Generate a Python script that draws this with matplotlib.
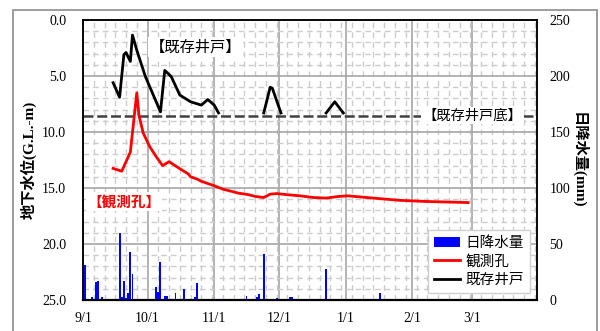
import matplotlib.pyplot as plt
import matplotlib.dates as mdates
import matplotlib.ticker as mticker
from matplotlib.patches import Rectangle
import numpy as np
import pandas as pd

SERIF = 'Liberation Serif'
CJK = 'Noto Sans CJK JP'
plt.rcParams['font.family'] = [SERIF, CJK]

# daily rainfall (mm)
rain_dates = ['2018-09-01', '2018-09-02', '2018-09-05', '2018-09-07', '2018-09-08',
              '2018-09-10', '2018-09-18', '2018-09-19', '2018-09-20', '2018-09-21',
              '2018-09-22', '2018-09-23', '2018-09-24', '2018-10-05', '2018-10-06',
              '2018-10-07', '2018-10-09', '2018-10-10', '2018-10-13', '2018-10-14',
              '2018-10-18', '2018-10-23', '2018-10-24', '2018-11-04', '2018-11-16',
              '2018-11-21', '2018-11-22', '2018-11-24', '2018-11-30', '2018-12-06',
              '2018-12-07', '2018-12-14', '2018-12-18', '2018-12-23', '2019-01-16',
              '2019-01-17']
rain_mm = [5, 31, 3, 16, 17, 3, 60, 3, 17, 2, 6, 43, 23, 12, 7, 34, 4, 4, 1, 6,
           10, 3, 15, 1, 4, 3, 5, 41, 2, 3, 3, 1, 0.5, 28, 1, 6]

# groundwater level, observation hole (G.L.-m)
hole_dates = ['2018-09-15', '2018-09-19', '2018-09-23', '2018-09-26', '2018-09-27',
              '2018-09-29', '2018-10-02', '2018-10-05', '2018-10-08', '2018-10-11',
              '2018-10-15', '2018-10-17', '2018-10-20', '2018-10-21', '2018-10-24',
              '2018-10-26', '2018-10-29', '2018-11-01', '2018-11-05', '2018-11-09',
              '2018-11-12', '2018-11-17', '2018-11-20', '2018-11-24', '2018-11-27',
              '2018-11-30', '2018-12-05', '2018-12-11', '2018-12-17', '2018-12-23',
              '2018-12-29', '2019-01-02', '2019-01-11', '2019-01-20', '2019-01-26',
              '2019-02-07', '2019-02-17', '2019-02-27']
hole_depth = [13.25, 13.5, 11.8, 6.5, 8.5, 10.1, 11.3, 12.2, 13.0, 12.65,
              13.15, 13.4, 13.75, 14.0, 14.2, 14.4, 14.6, 14.8, 15.1, 15.3,
              15.45, 15.6, 15.75, 15.85, 15.55, 15.5, 15.6, 15.7, 15.85, 15.9,
              15.75, 15.7, 15.85, 16.0, 16.1, 16.2, 16.25, 16.3]

# existing well (dry periods left as gaps)
well_dates = ['2018-09-15', '2018-09-18', '2018-09-20', '2018-09-21', '2018-09-23',
              '2018-09-24', '2018-09-26', '2018-09-30', '2018-10-04', '2018-10-07',
              '2018-10-09', '2018-10-12', '2018-10-16', '2018-10-21', '2018-10-26',
              '2018-10-29', '2018-11-01', '2018-11-03', '2018-11-10',
              '2018-11-24', '2018-11-27', '2018-11-28', '2018-12-02', '2018-12-10',
              '2018-12-23', '2018-12-27', '2018-12-31']
well_depth = [5.6, 6.9, 3.1, 2.9, 3.7, 1.35, 2.7, 5.05, 6.85, 8.2,
              4.5, 5.05, 6.7, 7.3, 7.6, 7.1, 7.6, 8.3, np.nan,
              8.3, 6.0, 6.1, 8.3, np.nan,
              8.3, 7.3, 8.3]

well_bottom = 8.55

rain_dates = pd.to_datetime(rain_dates)
hole_dates = pd.to_datetime(hole_dates)
well_dates = pd.to_datetime(well_dates)
start, end = pd.Timestamp('2018-09-01'), pd.Timestamp('2019-03-31')

fig = plt.figure(figsize=(6, 3.31), dpi=100)
fig.patches.append(Rectangle((13 / 600, -0.1), 584 / 600, 1.1 - 10 / 331,
                             transform=fig.transFigure, fill=False,
                             edgecolor='#8c8c8c', linewidth=1.2))

ax = fig.add_axes([83 / 600, 31 / 331, 454 / 600, 280 / 331])
ax2 = ax.twinx()

# left axis: depth, inverted
ax.set_xlim(start, end)
ax.set_ylim(25, 0)
ax.yaxis.set_major_locator(mticker.MultipleLocator(5))
ax.yaxis.set_minor_locator(mticker.MultipleLocator(1))
ax.yaxis.set_major_formatter(mticker.FormatStrFormatter('%.1f'))
ax.xaxis.set_major_locator(mdates.MonthLocator())
ax.xaxis.set_major_formatter(mticker.FuncFormatter(
    lambda v, p: f'{mdates.num2date(v).month}/{mdates.num2date(v).day}'))
minor_days = pd.date_range(start, end, freq='5D')
ax.xaxis.set_minor_locator(mticker.FixedLocator(mdates.date2num(minor_days)))

ax.grid(which='major', color='#a6a6a6', linewidth=1.2)
ax.grid(which='minor', color='#cccccc', linewidth=1.0, linestyle=(0, (4, 3)))
ax.set_axisbelow(True)

ax.tick_params(which='both', length=0, labelsize=10)
ax.tick_params(axis='y', pad=12)
ax.tick_params(axis='x', pad=9)
ax.set_ylabel('地下水位(G.L.-m)', fontsize=11, fontweight='bold', labelpad=4)

ax.axhline(well_bottom, color='#404040', linewidth=1.8, linestyle=(0, (4, 1.5)), zorder=2)
line_hole, = ax.plot(hole_dates, hole_depth, color='red', linewidth=2, zorder=3)
line_well, = ax.plot(well_dates, well_depth, color='black', linewidth=2, zorder=3)

ax.text(pd.Timestamp('2018-10-02'), 2.4, '【既存井戸】', family=CJK, fontsize=11,
        ha='left', va='center', zorder=4,
        bbox=dict(facecolor='white', edgecolor='none', pad=1))
ax.text(pd.Timestamp('2018-09-03'), 16.2, '【観測孔】', family=CJK, fontsize=10.5,
        color='red', fontweight='bold', ha='left', va='center', zorder=4,
        bbox=dict(facecolor='white', edgecolor='none', pad=1))
ax.text(pd.Timestamp('2019-03-01'), well_bottom, '【既存井戸底】', family=CJK,
        fontsize=10.3, ha='center', va='center', zorder=4,
        bbox=dict(facecolor='white', edgecolor='none', pad=1))

# right axis: daily rainfall
bars = ax2.bar(rain_dates, rain_mm, width=0.9, color='#0000ff', zorder=2)
ax2.set_ylim(0, 250)
ax2.yaxis.set_major_locator(mticker.MultipleLocator(50))
ax2.tick_params(length=0, labelsize=10, pad=9)
ax2.set_ylabel('日降水量(mm)', fontsize=11, fontweight='bold', rotation=270, labelpad=12)

for a in (ax, ax2):
    for s in a.spines.values():
        s.set_color('black')
        s.set_linewidth(1.1)
ax.spines['bottom'].set_linewidth(1.6)

leg = ax2.legend([bars, line_hole, line_well], ['日降水量', '観測孔', '既存井戸'],
                 loc='lower right', bbox_to_anchor=(0.985, 0.026), borderaxespad=0,
                 prop={'family': CJK, 'size': 10.5}, fancybox=False, framealpha=1,
                 edgecolor='#d0d0d0', handlelength=1.8, handletextpad=0.4,
                 labelspacing=0.3, borderpad=0.4)

fig.savefig('out.png', dpi=100)
